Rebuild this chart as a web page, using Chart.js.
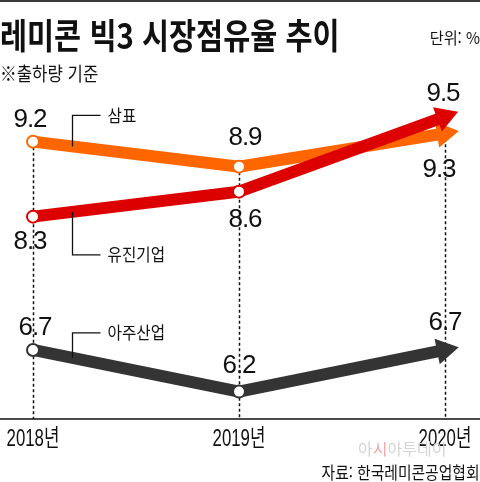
<!DOCTYPE html>
<html lang="ko">
<head>
<meta charset="utf-8">
<title>레미콘 빅3 시장점유율 추이</title>
<script src="https://cdn.jsdelivr.net/npm/chart.js"></script>
<style>
  html, body { margin: 0; padding: 0; background: #fff; }
  #wrap { position: relative; width: 480px; height: 482px; overflow: hidden; font-family: "Noto Sans CJK KR", sans-serif; color: #111; }
  #topline { position: absolute; left: 0; top: 0; width: 480px; height: 2px; background: #3a3a3a; }
  #chart { position: absolute; left: 0; top: 0; }
  .txt { position: absolute; white-space: nowrap; line-height: 1; }
  #title { left: 0; top: 16px; font-size: 35px; font-weight: 700; transform: scaleX(0.84); transform-origin: left top; }
  #subtitle { left: 0; top: 63px; font-size: 19px; transform: scaleX(0.88); transform-origin: left top; }
  #unit { right: 0; top: 29px; font-size: 16px; transform: scaleX(0.95); transform-origin: right top; }
  #source { right: 0; top: 463px; font-size: 17px; transform: scaleX(0.87); transform-origin: right top; }
  #mark { left: 358px; top: 440px; font-size: 16px; color: #d4d4d4; }
  #mark b { font-weight: 400; color: #f0a8a8; }
</style>
</head>
<body>
<div id="wrap">
  <div id="topline"></div>
  <canvas id="chart" width="480" height="482"></canvas>
  <div class="txt" id="title">레미콘 빅3 시장점유율 추이</div>
  <div class="txt" id="subtitle">※출하량 기준</div>
  <div class="txt" id="unit">단위: %</div>
  <div class="txt" id="mark">아<b>시</b>아투데이</div>
  <div class="txt" id="source">자료: 한국레미콘공업협회</div>
</div>
<script>
// Data
const years = ['2018년', '2019년', '2020년'];
const sampyo = [9.2, 8.9, 9.3];
const yujin = [8.3, 8.6, 9.5];
const aju = [6.7, 6.2, 6.7];

const ORANGE = '#ff6600';
const RED = '#dc0000';
const DARK = '#343434';
const NUM_FONT = '"Liberation Sans", Arial, "Noto Sans CJK KR", sans-serif';
const KO_FONT = '"Noto Sans CJK KR", sans-serif';

function toPoints(values) {
  return values.map((v, i) => ({ x: i, y: v }));
}

function makeDataset(name, values, color, labelDx, labelDy, tag) {
  return {
    label: name,
    data: toPoints(values),
    borderColor: color,
    backgroundColor: color,
    borderWidth: 12,
    tension: 0,
    pointRadius: values.map((v, i) => (i === values.length - 1 ? 0 : 6)),
    pointHoverRadius: 6,
    pointBackgroundColor: '#fff',
    pointBorderColor: color,
    pointBorderWidth: 2,
    clip: false,
    labelDx: labelDx,
    labelDy: labelDy,
    tag: tag
  };
}

// dotted guides, full-width base line and condensed year labels
const axisPlugin = {
  id: 'axis',
  beforeDatasetsDraw(chart) {
    const ctx = chart.ctx;
    const xs = chart.scales.x;
    const ys = chart.scales.y;
    const bottom = chart.chartArea.bottom;
    ctx.save();
    ctx.strokeStyle = '#111';
    ctx.lineWidth = 1.5;
    ctx.setLineDash([3, 2.5]);
    years.forEach((y, i) => {
      const top = Math.min(...chart.data.datasets.map(ds => ys.getPixelForValue(ds.data[i].y)));
      const x = Math.round(xs.getPixelForValue(i)) + 0.5;
      ctx.beginPath();
      ctx.moveTo(x, top);
      ctx.lineTo(x, bottom);
      ctx.stroke();
    });
    ctx.setLineDash([]);
    ctx.beginPath();
    ctx.moveTo(0, bottom);
    ctx.lineTo(chart.width, bottom);
    ctx.stroke();
    ctx.restore();
  },
  afterDraw(chart) {
    const ctx = chart.ctx;
    const xs = chart.scales.x;
    const y = chart.chartArea.bottom + 20;
    ctx.save();
    ctx.fillStyle = '#111';
    ctx.font = '24px ' + NUM_FONT;
    ctx.textBaseline = 'middle';
    ctx.textAlign = 'left';
    years.forEach((label, i) => {
      const w = ctx.measureText(label).width * 0.7;
      const left = Math.min(Math.max(xs.getPixelForValue(i) - w / 2, 0), chart.width - w);
      ctx.save();
      ctx.translate(left, y);
      ctx.scale(0.7, 1);
      ctx.fillText(label, 0, 0);
      ctx.restore();
    });
    ctx.restore();
  }
};

// arrow head on the last point of each line
const arrowPlugin = {
  id: 'arrows',
  afterDatasetDraw(chart, args) {
    const pts = args.meta.data;
    const ds = chart.data.datasets[args.index];
    const p = pts[pts.length - 1];
    const q = pts[pts.length - 2];
    const len = Math.hypot(p.x - q.x, p.y - q.y);
    const ux = (p.x - q.x) / len, uy = (p.y - q.y) / len;
    const nx = -uy, ny = ux;
    const tipX = p.x + 14 * ux, tipY = p.y + 14 * uy;
    const bx = p.x - 8 * ux, by = p.y - 8 * uy;
    const ctx = chart.ctx;
    ctx.save();
    ctx.fillStyle = ds.borderColor;
    ctx.beginPath();
    ctx.moveTo(tipX, tipY);
    ctx.lineTo(bx + 13 * nx, by + 13 * ny);
    ctx.lineTo(bx - 13 * nx, by - 13 * ny);
    ctx.closePath();
    ctx.fill();
    ctx.restore();
  }
};

// value labels and series name tags
const labelPlugin = {
  id: 'labels',
  afterDatasetsDraw(chart) {
    const ctx = chart.ctx;
    ctx.save();
    chart.data.datasets.forEach((ds, di) => {
      const pts = chart.getDatasetMeta(di).data;
      ctx.fillStyle = '#111';
      ctx.font = '26px ' + NUM_FONT;
      ctx.letterSpacing = '-1px';
      ctx.textAlign = 'center';
      ctx.textBaseline = 'middle';
      pts.forEach((pt, i) => {
        ctx.fillText(ds.data[i].y.toFixed(1), pt.x + ds.labelDx[i], pt.y + ds.labelDy[i]);
      });
      ctx.letterSpacing = '0px';

      // name tag with elbow connector on the first segment
      const a = pts[0], b = pts[1];
      const cx = a.x + ds.tag.at * (b.x - a.x);
      const cy = a.y + ds.tag.at * (b.y - a.y);
      const ty = cy + ds.tag.dy;
      const lx = Math.round(cx) + 0.5;
      ctx.strokeStyle = '#111';
      ctx.lineWidth = 1.3;
      ctx.beginPath();
      ctx.moveTo(lx, cy);
      ctx.lineTo(lx, ty);
      ctx.lineTo(lx + 28, ty);
      ctx.stroke();
      ctx.save();
      ctx.translate(lx + 35, ty);
      ctx.scale(0.92, 1);
      ctx.font = '17px ' + KO_FONT;
      ctx.textAlign = 'left';
      ctx.textBaseline = 'middle';
      ctx.fillText(ds.label, 0, 0);
      ctx.restore();
    });
    ctx.restore();
  }
};

// chart area ends up 8px in from each side (line overflow padding),
// so the x range is set to put 2018 at x=33 and 2020 at x=445
const ctx = document.getElementById('chart').getContext('2d');
new Chart(ctx, {
  type: 'line',
  data: {
    datasets: [
      makeDataset('유진기업', yujin, RED, [-3, 6, -2], [25, 28, -23], { at: 0.19, dy: 43 }),
      makeDataset('삼표', sampyo, ORANGE, [-3, 6, -6], [-22, -29, 37], { at: 0.19, dy: -31 }),
      makeDataset('아주산업', aju, DARK, [2, 0, 0], [-22, -26, -27], { at: 0.19, dy: -25 })
    ]
  },
  options: {
    responsive: false,
    devicePixelRatio: 1,
    animation: false,
    events: [],
    layout: { padding: { top: 94, bottom: 27, left: 0, right: 0 } },
    plugins: {
      legend: { display: false },
      tooltip: { enabled: false },
      title: { display: false }
    },
    scales: {
      x: {
        type: 'linear',
        min: -25 / 206,
        max: 2 + 27 / 206,
        grid: { display: false },
        border: { display: false },
        afterBuildTicks: scale => {
          scale.ticks = years.map((y, i) => ({ value: i }));
        },
        afterFit: scale => {
          scale.height = 36;
        },
        ticks: { display: false }
      },
      y: {
        display: false,
        min: 5.871,
        max: 9.772
      }
    }
  },
  plugins: [axisPlugin, arrowPlugin, labelPlugin]
});
</script>
</body>
</html>
